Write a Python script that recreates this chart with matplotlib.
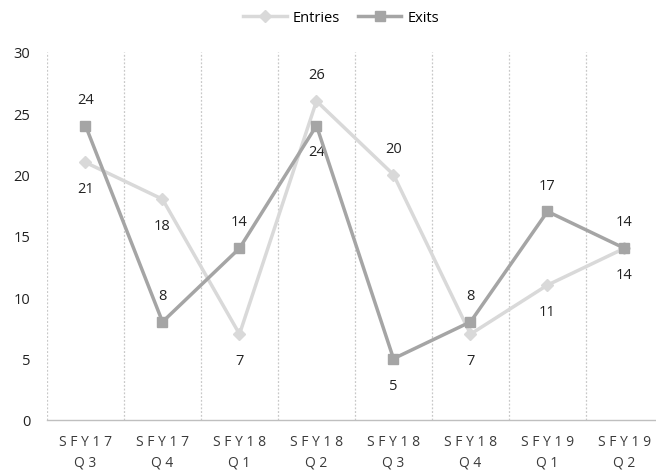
import matplotlib
matplotlib.use("Agg")
import matplotlib.pyplot as plt

categories = ["SFY17\nQ3", "SFY17\nQ4", "SFY18\nQ1", "SFY18\nQ2", "SFY18\nQ3", "SFY18\nQ4", "SFY19\nQ1", "SFY19\nQ2"]
entries = [21, 18, 7, 26, 20, 7, 11, 14]
exits = [24, 8, 14, 24, 5, 8, 17, 14]
entries_label_pos = ["below", "below", "below", "above", "above", "below", "below", "below"]
exits_label_pos = ["above", "above", "above", "below", "below", "above", "above", "above"]

plt.rcParams['font.family'] = ['Open Sans', 'DejaVu Sans']

fig = plt.figure(figsize=(6.56, 4.77), dpi=100)
ax = fig.add_axes([47/656, 1-421/477, (663-47)/656, (421-53)/477])

x = list(range(len(categories)))
c_ent = "#D9D9D9"
c_ex = "#A5A5A5"
ax.plot(x, entries, color=c_ent, lw=2.5, marker="D", ms=6, label="Entries", zorder=3)
ax.plot(x, exits, color=c_ex, lw=2.5, marker="s", ms=7.5, label="Exits", zorder=4)

for xi, v, p in zip(x, entries, entries_label_pos):
    off = 19 if p == "above" else -19
    ax.annotate(str(v), (xi, v), xytext=(0, off), textcoords="offset points",
                ha="center", va="center", fontsize=10.5, color="#222222")
for xi, v, p in zip(x, exits, exits_label_pos):
    off = 19 if p == "above" else -19
    ax.annotate(str(v), (xi, v), xytext=(0, off), textcoords="offset points",
                ha="center", va="center", fontsize=10.5, color="#222222")

def spaced(s):
    return "\n".join(" ".join(line) for line in s.split("\n"))

ax.set_xlim(-0.5, 7.5)
ax.set_ylim(0, 30)
ax.set_yticks([0, 5, 10, 15, 20, 25, 30])
ax.set_xticks(x)
ax.set_xticklabels([spaced(c) for c in categories], fontsize=10, color="#3A3A3A", linespacing=1.55)
ax.tick_params(axis="y", labelsize=10.5, colors="#222222", length=0, pad=12)
ax.tick_params(axis="x", length=0, pad=10)

for b in [i + 0.5 for i in range(-1, 8)]:
    ax.axvline(b, color="#C8C8C8", lw=0.9, ls=(0, (1.5, 1.5)), zorder=1)

for s in ["top", "right", "left"]:
    ax.spines[s].set_visible(False)
ax.spines["bottom"].set_color("#BFBFBF")
ax.spines["bottom"].set_linewidth(1)

fig.legend(loc="upper center", bbox_to_anchor=(0.52, 1.005), ncol=2, frameon=False,
           fontsize=10.5, handlelength=3, columnspacing=1.2, handletextpad=0.4)

fig.savefig("out.png", dpi=100)
